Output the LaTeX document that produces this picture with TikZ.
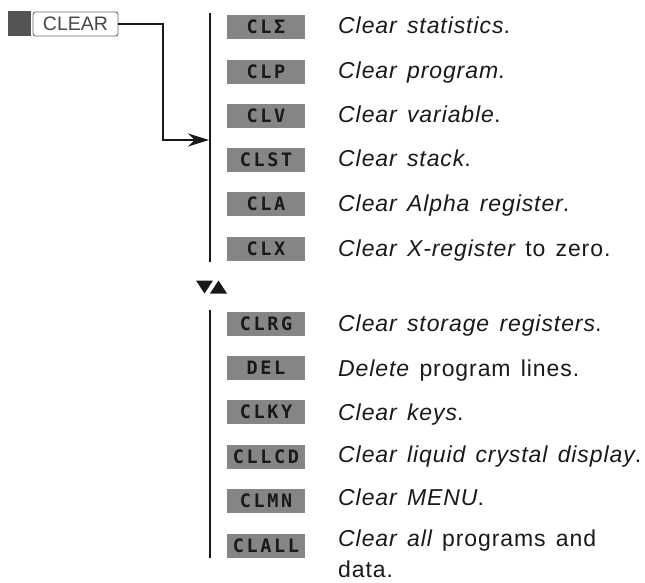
\documentclass[tikz,border=0pt]{standalone}
\usepackage{fontspec}
\setmainfont{Liberation Sans}
\newfontfamily\descfont[LetterSpace=4,WordSpace=1.4]{Liberation Sans}
\newfontfamily\menufont[LetterSpace=14]{DejaVu Sans Mono}
\usetikzlibrary{arrows.meta}
\definecolor{menugray}{gray}{0.52}
\definecolor{keydark}{gray}{0.33}
\definecolor{inkgray}{gray}{0.1}
\tikzset{
  menubox/.style={fill=menugray, minimum width=78pt, minimum height=24pt, inner sep=0pt,
    font=\menufont\bfseries\fontsize{18.5}{18.5}\selectfont, text=inkgray},
  desc/.style={anchor=base west, inner sep=0pt, font=\descfont\fontsize{23}{31}\selectfont, text=inkgray, align=left},
  bar/.style={line width=2.6pt, draw=inkgray},
  conn/.style={line width=2.2pt, draw=inkgray, -{Stealth[length=21pt,width=13pt]}},
}
\begin{document}
\begin{tikzpicture}[x=1pt,y=-1pt]
\useasboundingbox (0,0) rectangle (645,583);
% shift key and CLEAR key
\node[fill=keydark, minimum width=23pt, minimum height=25pt, inner sep=0pt] (shift) at (19.5,24) {};
\node[draw=black!60, line width=0.9pt, rounded corners=2.5pt, minimum width=85pt, minimum height=24pt, inner sep=0pt,
  font=\fontsize{19.5}{19.5}\selectfont, text=black!72] (clear) at (75.5,24) {CLEAR};
% bars
\coordinate (b1top) at (210,13);
\coordinate (b1bot) at (210,262);
\coordinate (b2top) at (210,310);
\coordinate (b2bot) at (210,558);
\coordinate (hit) at (209,140);
\coordinate (bend1) at (163,24);
\coordinate (bend2) at (163,140);
\draw[bar] (b1top) -- (b1bot);
\draw[bar] (b2top) -- (b2bot);
\draw[conn] (clear.east) -- (bend1) -- (bend2) -- (hit);
% menu items group 1
\foreach \y/\m/\nm in {27/CL\char"03A3/m1, 72/CLP/m2, 116/CLV/m3, 160/CLST/m4, 204/CLA/m5, 249/CLX/m6}{
  \node[menubox] (\nm) at (266,\y) {\m};
}
\node[desc] (d1) at (338,34) {\itshape Clear statistics\upshape .};
\node[desc] (d2) at (338,79) {\itshape Clear program\upshape .};
\node[desc] (d3) at (338,123) {\itshape Clear variable\upshape .};
\node[desc] (d4) at (338,167) {\itshape Clear stack\upshape .};
\node[desc] (d5) at (338,211) {\itshape Clear Alpha register\upshape .};
\node[desc] (d6) at (338,256) {\itshape Clear X-register\upshape{} to zero.};
% triangles
\fill[inkgray] (196,280.5) -- (213,280.5) -- (204.5,293.5) -- cycle;
\fill[inkgray] (218.5,280.5) -- (227,293.5) -- (210,293.5) -- cycle;
% menu items group 2
\foreach \y/\m/\nm in {324/CLRG/n1, 368/DEL/n2, 412/CLKY/n3, 457/CLLCD/n4, 501/CLMN/n5, 546/CLALL/n6}{
  \node[menubox] (\nm) at (266,\y) {\m};
}
\node[desc] (e1) at (338,331.5) {\itshape Clear storage registers\upshape .};
\node[desc] (e2) at (338,376) {\itshape Delete\upshape{} program lines.};
\node[desc] (e3) at (338,420) {\itshape Clear keys\upshape .};
\node[desc] (e4) at (338,462) {\itshape Clear liquid crystal display\upshape .};
\node[desc] (e5) at (338,505) {\itshape Clear MENU\upshape .};
\node[desc] (e6) at (338,546) {\parbox[t]{300pt}{\raggedright\itshape Clear all\upshape{} programs and\\data.}};
\end{tikzpicture}
\end{document}
